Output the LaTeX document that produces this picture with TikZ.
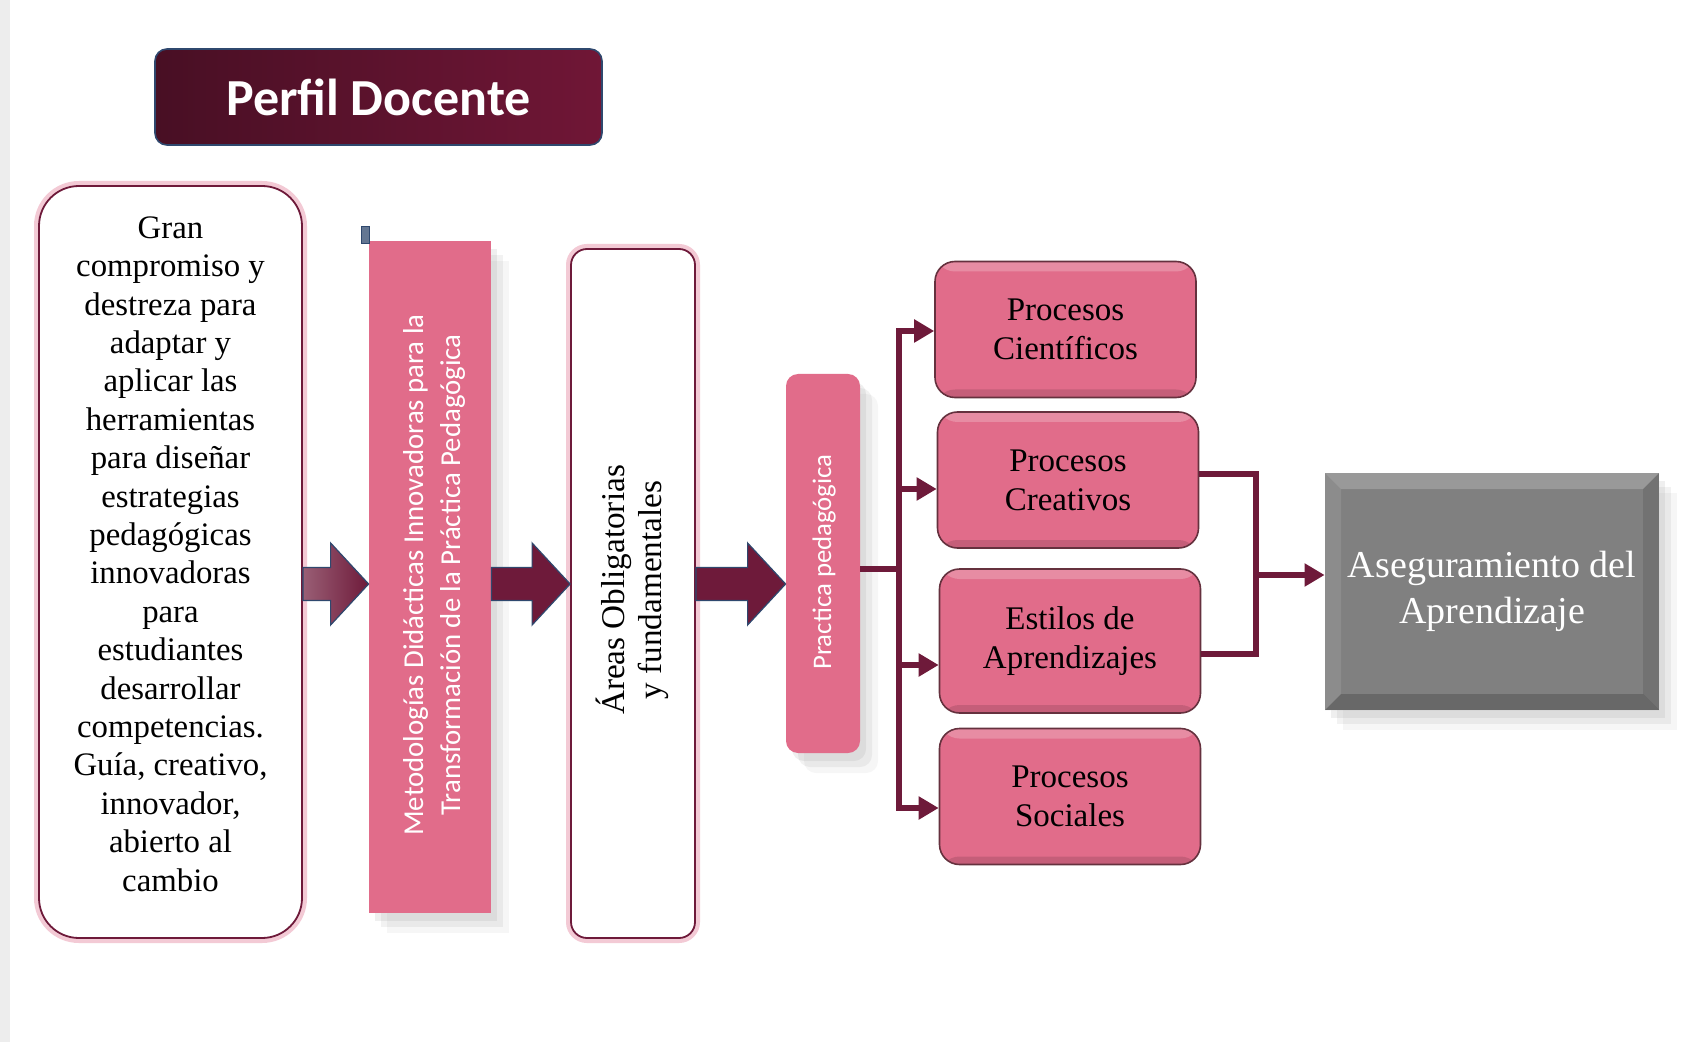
\documentclass[tikz,border=0pt]{standalone}
\usepackage{fontspec}
\setmainfont{Liberation Serif}
\newfontfamily\calibri{Carlito}
\usepackage{tikz}
\usetikzlibrary{arrows.meta,positioning,shadows,calc}
\definecolor{maroon}{RGB}{110,26,58}
\definecolor{headleft}{RGB}{72,15,36}
\definecolor{headright}{RGB}{112,22,54}
\definecolor{rose}{RGB}{225,108,138}
\definecolor{glow}{RGB}{232,150,172}
\definecolor{edgeblue}{RGB}{47,72,110}
\definecolor{slate}{RGB}{128,128,128}

\begin{document}
\begin{tikzpicture}[
  x=0.5pt, y=-0.5pt,
  header/.style={draw=edgeblue, line width=0.8pt, rounded corners=6pt, left color=headleft, right color=headright,
    text=white, font=\calibri\bfseries\fontsize{26pt}{30pt}\selectfont, minimum width=223.5pt, minimum height=48pt},
  outline/.style={draw=maroon, line width=0.9pt, fill=white, preaction={draw=glow, line width=5pt, opacity=0.5}},
  softshadow/.style={drop shadow={shadow xshift=3pt, shadow yshift=-4pt, opacity=0.12},
    drop shadow={shadow xshift=6pt, shadow yshift=-7pt, opacity=0.1},
    drop shadow={shadow xshift=9pt, shadow yshift=-10pt, opacity=0.07}},
  bar/.style={fill=rose, softshadow},
  vtext/.style={rotate=90, align=center, text=white, font=\calibri\fontsize{14.4pt}{18.5pt}\selectfont},
  procbox/.style={rounded corners=10pt, fill=rose, draw=black!55!rose, line width=0.8pt, minimum width=130.5pt,
    minimum height=68pt, align=center, font=\fontsize{16.5pt}{19.5pt}\selectfont,
    path picture={
      \fill[white, opacity=0.22] (path picture bounding box.north west) rectangle ([yshift=-5pt]path picture bounding box.north east);
      \fill[black, opacity=0.12] (path picture bounding box.south west) rectangle ([yshift=4pt]path picture bounding box.south east);}},
  graybox/.style={fill=slate, text=white, align=center, minimum width=167pt, minimum height=118.5pt,
    font=\fontsize{19pt}{23.3pt}\selectfont, softshadow,
    path picture={
      \fill[white, opacity=0.2] (path picture bounding box.north west) -- (path picture bounding box.north east)
        -- ([xshift=-8pt, yshift=-8pt]path picture bounding box.north east) -- ([xshift=8pt, yshift=-8pt]path picture bounding box.north west) -- cycle;
      \fill[white, opacity=0.1] (path picture bounding box.north west) -- (path picture bounding box.south west)
        -- ([xshift=8pt, yshift=8pt]path picture bounding box.south west) -- ([xshift=8pt, yshift=-8pt]path picture bounding box.north west) -- cycle;
      \fill[black, opacity=0.1] (path picture bounding box.north east) -- (path picture bounding box.south east)
        -- ([xshift=-8pt, yshift=8pt]path picture bounding box.south east) -- ([xshift=-8pt, yshift=-8pt]path picture bounding box.north east) -- cycle;
      \fill[black, opacity=0.18] (path picture bounding box.south west) -- (path picture bounding box.south east)
        -- ([xshift=-8pt, yshift=8pt]path picture bounding box.south east) -- ([xshift=8pt, yshift=8pt]path picture bounding box.south west) -- cycle;}},
  blockarrow/.style={draw=edgeblue, line width=0.6pt, fill=maroon,
    to path={let \p1=(\tikztostart), \p2=(\tikztotarget) in
      (\x1,\y1+8.25pt) -- (\x2-19pt,\y1+8.25pt) -- (\x2-19pt,\y1+20.5pt) -- (\x2,\y1)
      -- (\x2-19pt,\y1-20.5pt) -- (\x2-19pt,\y1-8.25pt) -- (\x1,\y1-8.25pt) -- cycle}},
  linkline/.style={draw=maroon, line width=2.8pt},
  linkarrow/.style={linkline, -{Triangle[length=10pt, width=11pt]}}
]
  \useasboundingbox[fill=white] (0,0) rectangle (1700,1042);
  \fill[black!7] (0,0) rectangle (10,1042);

  % title
  \node[header] (perfil) at (378.5,97) {Perfil Docente};

  % main column of boxes
  \node[outline, rounded corners=20pt, minimum width=131.5pt, minimum height=376pt] (rasgos) at (170.5,562) {};
  \node[align=center, font=\fontsize{16.4pt}{19.2pt}\selectfont] (rasgostxt) at (170.5,554)
    {Gran\\compromiso y\\destreza para\\adaptar y\\aplicar las\\herramientas\\para diseñar\\estrategias\\pedagógicas\\innovadoras\\para\\estudiantes\\desarrollar\\competencias.\\Guía, creativo,\\innovador,\\abierto al\\cambio};
  \node[bar, minimum width=61pt, minimum height=336pt] (metodo) at (430,577) {};
  \node[vtext] (metodotxt) at (434,575) {Metodologías Didácticas Innovadoras para la\\Transformación de la Práctica Pedagógica};
  \fill[draw=edgeblue, fill=edgeblue!75!white] (361,226) rectangle (369,243);
  \node[outline, rounded corners=8pt, minimum width=62pt, minimum height=344.5pt] (areas) at (633,593.5) {};
  \node[vtext, text=black, font=\fontsize{16.6pt}{18.5pt}\selectfont] (areastxt) at (632,590) {Áreas Obligatorias\\y fundamentales};
  \node[bar, rounded corners=6pt, minimum width=37pt, minimum height=189.5pt] (prac) at (823,563.5) {};
  \node[vtext, font=\calibri\fontsize{13.4pt}{16pt}\selectfont] (practxt) at (824,562) {Practica pedagógica};

  % block arrows
  \coordinate (flow) at (0,584);
  \path[blockarrow, left color=maroon!70!white, right color=maroon] (rasgos.east |- flow) to (metodo.west |- flow);
  \path[blockarrow] (metodo.east |- flow) to (areas.west |- flow);
  \path[blockarrow] (areas.east |- flow) to (prac.west |- flow);

  % processes
  \node[procbox] (cien) at (1065.5,329.5) {Procesos\\Científicos};
  \node[procbox] (crea) at (1068,480) {Procesos\\Creativos};
  \node[procbox, minimum height=72pt] (esti) at (1070,641) {Estilos de\\Aprendizajes};
  \node[procbox] (soci) at (1070,796.5) {Procesos\\Sociales};
  \node[graybox] (aseg) at (1492,591.5) {Aseguramiento del\\Aprendizaje};

  \coordinate (spine) at (899,569);
  \coordinate (join) at (1256,575);
  \draw[linkline] (prac.east |- spine) -- (spine);
  \draw[linkarrow] (spine) |- ([yshift=-0.75pt]cien.west);
  \draw[linkarrow] (spine) |- ([yshift=-4.5pt]crea.west);
  \draw[linkarrow] (spine) |- ([yshift=-12pt]esti.west);
  \draw[linkarrow] (spine) |- ([yshift=-5.75pt]soci.west);
  \draw[linkline] ([yshift=3pt]crea.east) -| (join) |- ([yshift=-6.5pt]esti.east);
  \draw[linkarrow] (join) -- (aseg.west |- join);
\end{tikzpicture}
\end{document}
